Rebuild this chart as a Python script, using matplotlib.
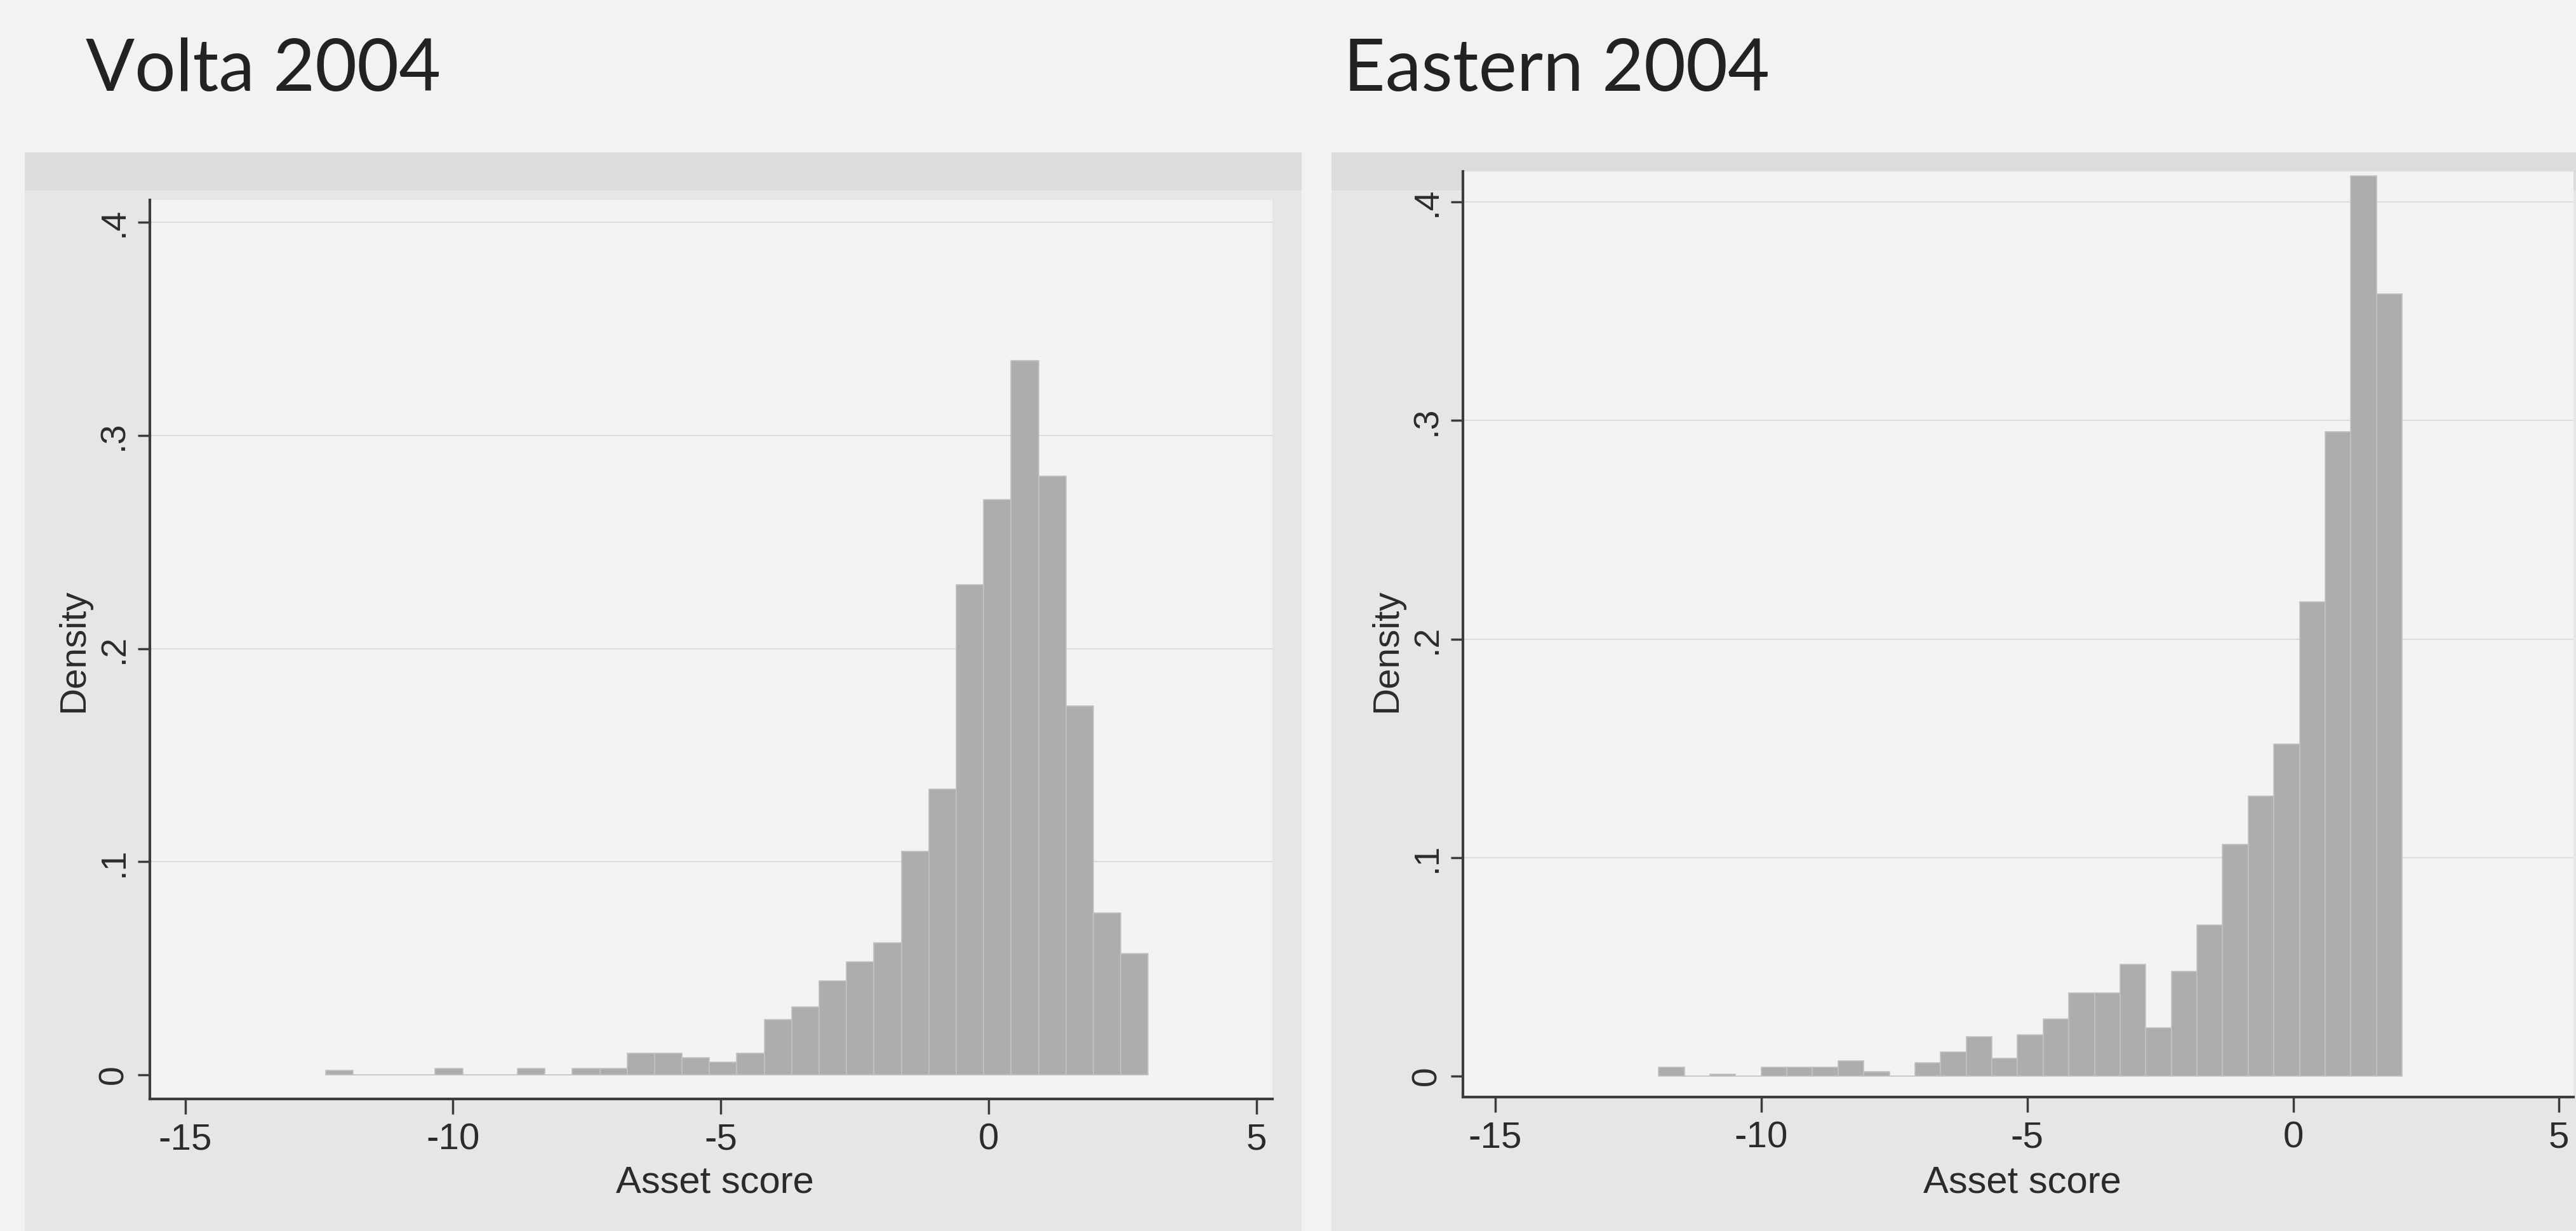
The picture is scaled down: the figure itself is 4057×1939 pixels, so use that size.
import matplotlib
matplotlib.use("Agg")
import matplotlib.pyplot as plt
from matplotlib import font_manager as fm
from matplotlib.patches import Rectangle
import numpy as np

# ---- data (density per bin) ----
volta_bin_start = -12.38
volta_bin_width = 0.512
volta_density = [0.002, 0, 0, 0, 0.003, 0, 0, 0.003, 0, 0.003,
                 0.003, 0.010, 0.010, 0.008, 0.006, 0.010, 0.026, 0.032, 0.044, 0.053,
                 0.062, 0.105, 0.134, 0.230, 0.270, 0.335, 0.281, 0.173, 0.076, 0.057]

eastern_bin_start = -11.93
eastern_bin_width = 0.482
eastern_density = [0.004, 0, 0.001, 0, 0.004, 0.004, 0.004, 0.007, 0.002, 0,
                   0.006, 0.011, 0.018, 0.008, 0.019, 0.026, 0.038, 0.038, 0.051, 0.022,
                   0.048, 0.069, 0.106, 0.128, 0.152, 0.217, 0.295, 0.412, 0.358]

x_ticks = [-15, -10, -5, 0, 5]
x_tick_labels = ["-15", "-10", "-5", "0", "5"]
y_ticks = [0, 0.1, 0.2, 0.3, 0.4]
y_tick_labels = ["0", ".1", ".2", ".3", ".4"]

titles = ["Volta 2004", "Eastern 2004"]
x_label = "Asset score"
y_label = "Density"

# ---- fonts ----
names = {f.name for f in fm.fontManager.ttflist}
NARROW = "Liberation Sans Narrow" if "Liberation Sans Narrow" in names else "Liberation Sans"
REG = "Liberation Sans"
TITLE_FONT = "Lato"

PAGE = "#f2f2f2"
PANEL = "#e6e6e6"
BAND = "#dcdcdc"
INNER = "#f3f3f3"
BAR = "#adadad"
INK = "#2b2b2b"
AXIS = "#3c3c3c"

W, H = 4057, 1939
fig = plt.figure(figsize=(W / 100, H / 100), dpi=100, facecolor=PAGE)


def fx(px):
    return px / W


def fy(py):
    return 1 - py / H


# grey graph regions and the darker strip along their tops
for x0, x1 in [(39, 2050), (2097, 4100)]:
    fig.add_artist(Rectangle((fx(x0), 0), fx(x1 - x0), fy(240), transform=fig.transFigure,
                             facecolor=PANEL, edgecolor="none", zorder=0))
    fig.add_artist(Rectangle((fx(x0), fy(300)), fx(x1 - x0), fy(240) - fy(300),
                             transform=fig.transFigure, facecolor=BAND, edgecolor="none", zorder=0))

panels = [
    # axes box in pixels (left, top, right, bottom), xlim, ylim, data
    dict(box=(236, 315, 2004, 1731), xlim=(-15.66, 5.30), ylim=(-0.0113, 0.4105),
         start=volta_bin_start, width=volta_bin_width, dens=volta_density,
         title=titles[0], title_xy=(135, 143), xlab_y=1863),
    dict(box=(2304, 270, 4053, 1728), xlim=(-15.61, 5.27), ylim=(-0.0096, 0.414),
         start=eastern_bin_start, width=eastern_bin_width, dens=eastern_density,
         title=titles[1], title_xy=(2116, 143), xlab_y=1863),
]

for p in panels:
    l, t, r, b = p["box"]
    ax = fig.add_axes([fx(l), fy(b), fx(r - l), (b - t) / H])
    ax.set_facecolor(INNER)
    edges = p["start"] + p["width"] * np.arange(len(p["dens"]) + 1)
    ax.bar(edges[:-1], p["dens"], width=p["width"], align="edge",
           color=BAR, edgecolor="#c2c2c2", linewidth=1.2, zorder=2)
    for yt in y_ticks[1:]:
        ax.axhline(yt, color="#dadada", lw=1.3, zorder=1)
    ax.set_xlim(*p["xlim"])
    ax.set_ylim(*p["ylim"])
    for s in ["top", "right"]:
        ax.spines[s].set_visible(False)
    for s in ["left", "bottom"]:
        ax.spines[s].set_color(AXIS)
        ax.spines[s].set_linewidth(3.0)
    ax.set_xticks(x_ticks)
    ax.set_xticklabels(x_tick_labels, fontsize=42, family=NARROW, color=INK)
    ax.set_yticks(y_ticks)
    ax.set_yticklabels(y_tick_labels, fontsize=40, family=REG, color=INK,
                       rotation=90, va="center")
    ax.tick_params(axis="x", length=17, width=2.5, color=AXIS, pad=10)
    ax.tick_params(axis="y", length=14, width=2.5, color=AXIS, pad=8)

    ax.set_xlabel(x_label, fontsize=43, family=NARROW, color=INK)
    ax.xaxis.set_label_coords(0.5 + 6 / (r - l), (b - p["xlab_y"]) / (b - t))
    ax.xaxis.label.set_va("center")
    ax.set_ylabel(y_label, fontsize=42, family=REG, color=INK)
    ax.yaxis.set_label_coords(-120 / (r - l), (b - 1025) / (b - t))
    ax.yaxis.label.set_va("center")

    tx, ty = p["title_xy"]
    fig.text(fx(tx), fy(ty), p["title"], fontsize=82, family=TITLE_FONT,
             color="#222222", ha="left", va="baseline")

fig.savefig("out.png", dpi=100, facecolor=PAGE)
